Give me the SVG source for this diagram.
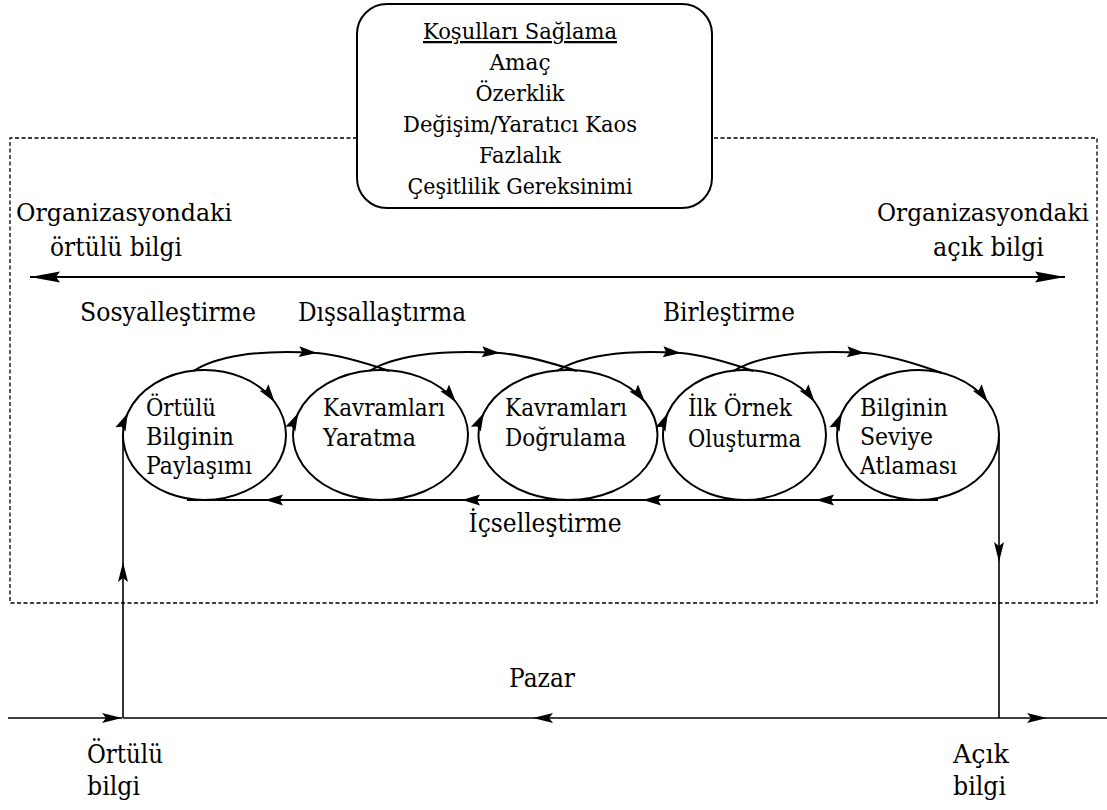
<svg xmlns="http://www.w3.org/2000/svg" width="1107" height="810" viewBox="0 0 1107 810">
  <style>
    text { font-family: "DejaVu Serif", serif; fill: #000; }
    .lg { font-size: 26px; }
    .org { font-size: 24.5px; }
    .md { font-size: 24px; }
    .sm { font-size: 22.5px; }
    .mid { text-anchor: middle; }
    .end { text-anchor: end; }
    .ln { fill: none; stroke: #000; stroke-width: 2; }
    .thin { fill: none; stroke: #000; stroke-width: 1.6; }
    .dash { fill: none; stroke: #000; stroke-width: 1.3; stroke-dasharray: 4 2.5; }
    .ring { fill: none; stroke: #000; stroke-width: 2; marker-mid: url(#head); }
  </style>
  <defs>
    <marker id="head" viewBox="-20 -8 22 16" refX="0" refY="0" markerWidth="22" markerHeight="16" markerUnits="userSpaceOnUse" orient="auto">
      <path d="M0,0 L-18,-5.5 L-15,0 L-18,5.5 Z" fill="#000"/>
    </marker>
    <marker id="slim" viewBox="-22 -7 24 14" refX="0" refY="0" markerWidth="24" markerHeight="14" markerUnits="userSpaceOnUse" orient="auto">
      <path d="M0,0 L-20,-5 L-16,0 L-20,5 Z" fill="#000"/>
    </marker>
    <marker id="long" viewBox="-32 -8 34 16" refX="0" refY="0" markerWidth="34" markerHeight="16" markerUnits="userSpaceOnUse" orient="auto-start-reverse">
      <path d="M0,0 L-30,-5.5 L-26,0 L-30,5.5 Z" fill="#000"/>
    </marker>
  </defs>

  <!-- organisation boundary -->
  <path id="organization" class="dash" d="M357,138 H10 V603 H1097 V138 H712"/>

  <!-- enabling conditions -->
  <g id="conditions">
    <rect x="357" y="4" width="355" height="204" rx="30" ry="30" class="ln" fill="#fff"/>
    <text class="sm mid" x="520" y="39" text-decoration="underline" textLength="194" lengthAdjust="spacingAndGlyphs">Koşulları Sağlama</text>
    <text class="sm mid" x="520" y="70" textLength="61" lengthAdjust="spacingAndGlyphs">Amaç</text>
    <text class="sm mid" x="520" y="101" textLength="89" lengthAdjust="spacingAndGlyphs">Özerklik</text>
    <text class="sm mid" x="520" y="132" textLength="234" lengthAdjust="spacingAndGlyphs">Değişim/Yaratıcı Kaos</text>
    <text class="sm mid" x="520" y="163" textLength="82" lengthAdjust="spacingAndGlyphs">Fazlalık</text>
    <text class="sm mid" x="520" y="194" textLength="225" lengthAdjust="spacingAndGlyphs">Çeşitlilik Gereksinimi</text>
  </g>

  <!-- knowledge axis labels -->
  <g id="tacit-org">
    <text class="org" x="16" y="221" textLength="216" lengthAdjust="spacingAndGlyphs">Organizasyondaki</text>
    <text class="lg" x="50" y="256" textLength="132" lengthAdjust="spacingAndGlyphs">örtülü bilgi</text>
  </g>
  <g id="explicit-org">
    <text class="org" x="877" y="221" textLength="212" lengthAdjust="spacingAndGlyphs">Organizasyondaki</text>
    <text class="lg" x="933" y="256" textLength="111" lengthAdjust="spacingAndGlyphs">açık bilgi</text>
  </g>

  <!-- conversion mode labels -->
  <g id="modes">
    <text class="lg" x="80" y="321" textLength="176" lengthAdjust="spacingAndGlyphs">Sosyalleştirme</text>
    <text class="lg" x="298" y="321" textLength="168" lengthAdjust="spacingAndGlyphs">Dışsallaştırma</text>
    <text class="lg" x="663" y="321" textLength="132" lengthAdjust="spacingAndGlyphs">Birleştirme</text>
    <text class="lg mid" x="545" y="532" textLength="153" lengthAdjust="spacingAndGlyphs">İçselleştirme</text>
  </g>

  <!-- five phases -->
  <g id="phase1">
    <path class="ring" d="M204.5,500 A81.5,65 0 0 1 127.8,413 A81.5,65 0 0 1 274.7,402 A81.5,65 0 0 1 204.5,500"/>
    <text class="md" x="146" y="416" textLength="70" lengthAdjust="spacingAndGlyphs">Örtülü</text>
    <text class="md" x="146" y="445" textLength="88" lengthAdjust="spacingAndGlyphs">Bilginin</text>
    <text class="md" x="146" y="474" textLength="106" lengthAdjust="spacingAndGlyphs">Paylaşımı</text>
  </g>
  <g id="phase2">
    <path class="ring" d="M380.5,500 A87.5,65 0 0 1 298.2,413 A87.5,65 0 0 1 455.9,402 A87.5,65 0 0 1 380.5,500"/>
    <text class="md" x="323" y="416" textLength="122" lengthAdjust="spacingAndGlyphs">Kavramları</text>
    <text class="md" x="323" y="446" textLength="93" lengthAdjust="spacingAndGlyphs">Yaratma</text>
  </g>
  <g id="phase3">
    <path class="ring" d="M568,500 A89.5,65 0 0 1 483.8,413 A89.5,65 0 0 1 645.1,402 A89.5,65 0 0 1 568,500"/>
    <text class="md" x="505" y="416" textLength="122" lengthAdjust="spacingAndGlyphs">Kavramları</text>
    <text class="md" x="505" y="446" textLength="121" lengthAdjust="spacingAndGlyphs">Doğrulama</text>
  </g>
  <g id="phase4">
    <path class="ring" d="M744.5,500 A81.5,65 0 0 1 667.8,413 A81.5,65 0 0 1 814.7,402 A81.5,65 0 0 1 744.5,500"/>
    <text class="md" x="688" y="416" textLength="104" lengthAdjust="spacingAndGlyphs">İlk Örnek</text>
    <text class="md" x="688" y="447" textLength="113" lengthAdjust="spacingAndGlyphs">Oluşturma</text>
  </g>
  <g id="phase5">
    <path class="ring" d="M918,500 A81,65 0 0 1 841.8,413 A81,65 0 0 1 987.8,402 A81,65 0 0 1 918,500"/>
    <text class="md" x="860" y="416" textLength="88" lengthAdjust="spacingAndGlyphs">Bilginin</text>
    <text class="md" x="860" y="445" textLength="73" lengthAdjust="spacingAndGlyphs">Seviye</text>
    <text class="md" x="860" y="474" textLength="97" lengthAdjust="spacingAndGlyphs">Atlaması</text>
  </g>

  <!-- market labels -->
  <g id="market">
    <text class="lg mid" x="542" y="687" textLength="66" lengthAdjust="spacingAndGlyphs">Pazar</text>
  </g>
  <g id="tacit-market">
    <text class="lg" x="87" y="763" textLength="76" lengthAdjust="spacingAndGlyphs">Örtülü</text>
    <text class="lg" x="87" y="795" textLength="53" lengthAdjust="spacingAndGlyphs">bilgi</text>
  </g>
  <g id="explicit-market">
    <text class="lg" x="953" y="763" textLength="56" lengthAdjust="spacingAndGlyphs">Açık</text>
    <text class="lg" x="953" y="795" textLength="53" lengthAdjust="spacingAndGlyphs">bilgi</text>
  </g>

  <!-- connectors -->
  <g id="connectors">
    <!-- organisational knowledge axis -->
    <path class="ln" d="M30,277 H1065" marker-start="url(#long)" marker-end="url(#long)"/>
    <!-- spiral arcs between phases -->
    <path class="ln" marker-mid="url(#head)" d="M193.5,371 C215,357 256,349 317,353 C340,355 366,363 389.5,371"/>
    <path class="ln" marker-mid="url(#head)" d="M369.5,371 C392,357 435,349 500,353 C524,355 552,363 577,371"/>
    <path class="ln" marker-mid="url(#head)" d="M557,371 C579,357 620,349 681,353 C705,355 730,363 753.5,371"/>
    <path class="ln" marker-mid="url(#head)" d="M733.5,371 C756,357 800,349 865,353 C889,355 917,364 942,373"/>
    <!-- internalisation return line -->
    <path class="ln" marker-mid="url(#head)" d="M938,500 H816 H643 H462 H265 H187"/>
    <!-- links to the market -->
    <path class="thin" marker-mid="url(#slim)" d="M123,718 V562 V436"/>
    <path class="thin" marker-mid="url(#slim)" d="M999,437 V562 V718"/>
    <path class="thin" marker-end="url(#slim)" d="M8,718 H122"/>
    <path class="thin" marker-mid="url(#slim)" d="M999,718 H533 H123"/>
    <path class="thin" marker-mid="url(#slim)" d="M999,718 H1047 H1107"/>
  </g>
</svg>
